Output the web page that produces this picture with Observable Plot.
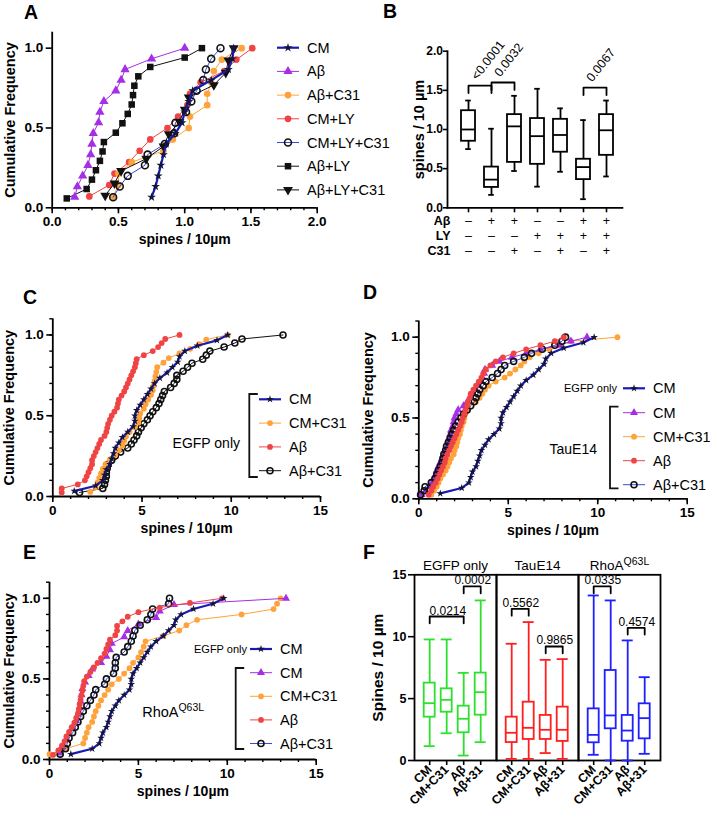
<!DOCTYPE html>
<html><head><meta charset="utf-8">
<script src="https://cdn.jsdelivr.net/npm/d3@7"></script>
<script src="https://cdn.jsdelivr.net/npm/@observablehq/plot@0.6"></script>
<style>
body{margin:0;background:#fff;}
#fig{position:relative;width:710px;height:813px;overflow:hidden;background:#fff;font-family:"Liberation Sans",Arial,Helvetica,sans-serif;}
#fig .panel{position:absolute;}
#fig svg{overflow:visible;max-width:none;background:transparent !important;}
#fig g[aria-label$="tick label"]{font-weight:bold;}
</style></head><body><div id="fig"></div><script>
const FONT = '"Liberation Sans", Arial, Helvetica, sans-serif';

// ---------------- Panel A data (spines / 10 µm per dendrite) ----------------
const seriesA = ["CM","Aβ","Aβ+C31","CM+LY","CM+LY+C31","Aβ+LY","Aβ+LY+C31"];
const aCM      = [0.75,0.78,0.80,0.82,0.84,0.86,0.93,0.98,1.00,1.03,1.06,1.20,1.33,1.36,1.37];
const aAb      = [0.17,0.19,0.23,0.27,0.29,0.30,0.31,0.35,0.36,0.39,0.48,0.52,0.55,0.75,1.00];
const aAbC31   = [0.46,0.50,0.50,0.60,0.84,0.91,1.03,1.04,1.17,1.17,1.20,1.22,1.28,1.43];
const aCMLY    = [0.28,0.43,0.47,0.58,0.66,0.74,0.87,0.95,1.02,1.04,1.12,1.30,1.39,1.51];
const aCMLYC31 = [0.46,0.51,0.57,0.70,0.72,0.85,0.92,0.93,1.01,1.05,1.09,1.14,1.16,1.20,1.27];
const aAbLY    = [0.11,0.26,0.30,0.33,0.36,0.38,0.39,0.48,0.53,0.57,0.60,0.61,0.62,0.65,0.74,1.00,1.13];
const aAbLYC31 = [0.40,0.47,0.52,0.71,0.84,0.88,0.96,1.00,1.03,1.22,1.31,1.33,1.37];

// ---------------- Panel B data (box summaries) ----------------
const bMin = [0.75,0.165,0.47,0.27,0.46,0.11,0.40];
const bQ1  = [0.85,0.26,0.58,0.555,0.71,0.36,0.67];
const bMed = [1.00,0.36,1.04,0.915,0.93,0.52,0.99];
const bQ3  = [1.24,0.52,1.19,1.14,1.13,0.62,1.19];
const bMax = [1.37,1.01,1.43,1.52,1.27,1.12,1.37];
const bRowNames = ["Aβ","LY","C31"];
const bAbeta = ["–","+","+","–","–","+","+"];
const bLY    = ["–","–","–","+","+","+","+"];
const bC31   = ["–","–","+","–","+","–","+"];
const bCmpFrom = ["CM","Aβ","Aβ+LY"];
const bCmpTo   = ["Aβ","Aβ+C31","Aβ+LY+C31"];
const bCmpY    = [1.56,1.60,1.535];
const bCmpP    = ["<0.0001","0.0032","0.0067"];

// ---------------- Panel C data (EGFP only) ----------------
const cCM    = [1.2,2.4,2.8,2.9,3.0,3.2,3.3,3.4,3.5,3.7,3.9,4.2,4.5,4.6,4.6,4.7,4.9,5.1,5.3,5.5,5.7,6.0,6.4,6.7,7.0,7.1,7.4,8.1,9.2,9.8];
const cCMC31 = [2.1,2.4,2.5,2.6,2.7,2.8,2.95,3.2,3.5,3.7,3.9,4.0,4.1,4.3,4.6,4.8,4.85,4.9,5.1,5.2,5.35,5.5,5.6,5.65,5.7,5.75,5.8,5.85,6.2,6.5,7.1,7.7,8.2,8.6,9.8];
const cAb    = [0.5,0.5,1.4,1.8,1.9,2.0,2.1,2.2,2.2,2.3,2.4,2.5,2.6,2.7,2.9,3.0,3.05,3.1,3.2,3.3,3.45,3.6,3.65,3.7,3.85,4.0,4.1,4.2,4.3,4.4,4.5,4.6,4.65,4.7,5.1,5.6,5.9,6.1,6.3,7.1];
const cAbC31 = [1.5,2.8,2.9,2.95,3.0,3.0,3.05,3.1,3.3,3.5,3.8,4.2,4.4,4.55,4.7,4.8,4.95,5.1,5.3,5.45,5.6,5.8,5.95,6.05,6.15,6.25,6.6,6.8,6.95,6.95,7.3,7.55,7.8,8.4,8.6,8.8,9.6,10.2,10.6,12.9];

// ---------------- Panel D data (TauE14) ----------------
const dCM    = [0.15,0.4,0.6,0.75,0.85,0.95,1.0,1.1,1.2,1.3,1.4,1.5,1.6,1.65,1.7,1.75,1.8,1.9,1.95,2.0,2.1,2.2,2.5,2.7,2.9,3.05,3.2,3.35,3.45,3.55,3.65,3.7,4.1,4.5,5.2,6.0,6.8,7.9,8.5,9.4];
const dCMC31 = [0.7,0.85,1.0,1.1,1.2,1.35,1.5,1.6,1.7,1.8,1.95,2.0,2.1,2.15,2.2,2.3,2.35,2.4,2.5,2.55,2.6,2.65,2.75,3.2,3.4,3.55,3.7,3.9,4.3,4.8,5.1,5.4,5.7,5.9,6.2,6.7,7.3,7.8,8.5,11.1];
const dAb    = [0.55,0.7,0.8,0.95,1.05,1.15,1.25,1.35,1.45,1.5,1.6,1.7,1.8,1.9,2.0,2.1,2.2,2.3,2.4,2.45,2.55,2.6,2.7,2.75,2.85,2.9,3.05,3.2,3.35,3.5,3.6,3.75,4.0,4.3,4.7,5.3,6.0,6.8,7.6,8.1];
const dAbC31 = [0.1,0.3,0.35,0.7,0.9,1.0,1.1,1.2,1.3,1.35,1.4,1.5,1.55,1.65,1.75,1.85,1.95,2.05,2.2,2.35,2.5,2.7,2.9,3.1,3.2,3.3,3.4,3.6,3.75,4.1,4.4,4.6,4.8,5.3,5.9,6.3,6.9,7.6,8.0,8.2];

// ---------------- Panel E data (RhoA Q63L) ----------------
const eCM    = [0.6,0.7,1.0,1.1,1.3,1.5,1.6,1.7,1.75,1.8,1.85,2.0,2.2,2.4,2.9,3.2,3.4,3.5,4.2,4.4,5.0,6.0,6.2,7.0,13.3];
const eCMC31 = [0.0,0.9,1.9,2.0,2.1,2.2,2.4,2.5,2.6,2.75,2.9,3.1,3.3,3.5,3.9,4.2,4.5,4.7,5.0,5.15,5.3,5.4,6.4,7.3,7.7,8.3,10.8,12.6,12.8,13.0];
const eAb    = [0.2,0.5,0.7,0.85,0.95,1.1,1.25,1.4,1.5,1.6,1.65,1.7,1.75,1.8,1.85,1.9,1.95,2.1,2.3,2.5,2.7,2.9,3.1,3.2,3.3,3.4,3.7,3.8,3.8,4.1,4.4,5.0,6.2,7.9,9.7];
const eAbC31 = [0.6,0.9,1.0,1.1,1.3,1.45,1.6,1.75,1.9,2.1,2.3,2.5,2.6,3.1,3.2,3.6,3.7,3.7,3.75,4.2,4.4,4.6,4.7,4.8,5.1,5.5,5.7,5.8,6.7,6.75];

// ---------------- Panel F data (box summaries) ----------------
const fGroups = ["EGFP only","TauE14","RhoA"];
const fGroupSup = ["","","Q63L"];
const fConds = ["CM","CM+C31","Aβ","Aβ+31"];
const fMin = [1.16,2.2,0.4,1.48, 0.13,0.13,0.6,0.13, 0.46,0,0,0.54];
const fQ1  = [3.5,3.9,2.24,3.66, 1.45,1.7,1.7,1.54, 1.43,2.56,1.56,1.75];
const fMed = [4.63,4.9,3.37,5.52, 2.24,2.64,2.48,2.48, 2.07,3.64,2.42,3.42];
const fQ3  = [6.25,5.79,4.39,7.06, 3.5,4.71,3.64,4.31, 4.17,7.27,3.64,4.58];
const fMax = [9.78,9.78,7.08,12.93, 9.43,11.18,8.13,8.19, 13.33,12.93,9.7,6.73];
const fCmpGroup = ["EGFP only","EGFP only","TauE14","TauE14","RhoA","RhoA"];
const fCmpFrom  = ["CM","Aβ","CM","Aβ","CM","Aβ"];
const fCmpTo    = ["Aβ","Aβ+31","CM+C31","Aβ+31","CM+C31","Aβ+31"];
const fCmpY     = [11.63,14.06,12.25,9.21,14.06,10.72];
const fCmpP     = ["0.0214","0.0002","0.5562","0.9865","0.0335","0.4574"];

// ---------------- styles ----------------
const ST = {
  cm:       {line:"#1a1ab2", lw:2.2, symbol:"star", r:2.4, fill:"#14143a"},
  purple:   {line:"#a52ee6", lw:1, symbol:"triangle", r:3.0, fill:"#a52ee6"},
  orange:   {line:"#ffa23a", lw:1, symbol:"circle", r:2.9, fill:"#ffa23a"},
  red:      {line:"#f04444", lw:1, symbol:"circle", r:2.9, fill:"#f04444"},
  ringBlue: {line:"#3a4ad6", lw:1, symbol:"circle", r:3.0, fill:"none", stroke:"#111", sw:1.6},
  ringBlack:{line:"#111", lw:1, symbol:"circle", r:3.0, fill:"none", stroke:"#111", sw:1.6},
  square:   {line:"#111", lw:1, symbol:"square", r:3.2, fill:"#111"},
  down:     {line:"#111", lw:1, symbol:"triangle", r:3.2, fill:"#111", rotate:180}
};
const baseStyle = {fontFamily: FONT, fontSize: "12px", color: "black", background: "transparent", overflow: "visible"};

function cumulative(values) {
  const s = d3.sort(values);
  return s.map((v, i) => ({x: v, y: (i + 1) / s.length}));
}
function seriesMarks(values, st, rs = 1) {
  const data = cumulative(values);
  return [
    Plot.line(data, {x: "x", y: "y", stroke: st.line, strokeWidth: st.lw}),
    Plot.dot(data, {x: "x", y: "y", symbol: st.symbol, r: st.r * rs, fill: st.fill,
      stroke: st.stroke || "none", strokeWidth: st.sw || 0, rotate: st.rotate || 0})
  ];
}
function cumPlot(o) {
  const marks = [
    Plot.axisX({ticks: o.xMinor, tickSize: 3, tickFormat: () => "", label: null, strokeWidth: 1.4}),
    Plot.axisX({ticks: o.xMajor, tickSize: 6, tickPadding: 3, tickFormat: o.xFmt, fontWeight: "bold", fontSize: 13.5, label: null, strokeWidth: 1.6}),
    Plot.axisY({ticks: [0, 0.5, 1], tickSize: 6, tickPadding: 3, tickFormat: d3.format(".1f"), fontWeight: "bold", fontSize: 13.5, label: null, strokeWidth: 1.6}),
    Plot.ruleX([0], {strokeWidth: 1.8}),
    Plot.ruleY([0], {strokeWidth: 1.8}),
    ...o.series,
    Plot.text(["spines / 10µm"], {text: d => d, frameAnchor: "bottom", dy: 36, fontWeight: "bold", fontSize: 14}),
    Plot.text(["Cumulative Frequency"], {text: d => d, frameAnchor: "left", textAnchor: "middle", rotate: -90, dx: o.yLabelDx, fontWeight: "bold", fontSize: 14.5})
  ];
  if (o.yMinor) marks.unshift(Plot.axisY({ticks: o.yMinor, tickSize: 3, tickFormat: () => "", label: null, strokeWidth: 1.4}));
  return Plot.plot({
    width: o.width, height: o.height, marginLeft: o.ml, marginRight: o.mr, marginTop: o.mt, marginBottom: o.mb,
    x: {domain: [0, o.xMax]}, y: {domain: [0, 1.1]},
    style: baseStyle, marks
  });
}
const fig = document.getElementById("fig");
function place(el, left, top) {
  const d = document.createElement("div");
  d.className = "panel"; d.style.left = left + "px"; d.style.top = top + "px";
  d.appendChild(el); fig.appendChild(d);
}
const minorY = d3.range(0, 1.11, 0.1).map(v => +v.toFixed(2));

// ---------------- Panel A ----------------
const valuesA = [aCM, aAb, aAbC31, aCMLY, aCMLYC31, aAbLY, aAbLYC31];
const stylesA = [ST.cm, ST.purple, ST.orange, ST.red, ST.ringBlue, ST.square, ST.down];
const drawOrderA = [3, 2, 4, 6, 0, 5, 1];
place(cumPlot({
  width: 340, height: 260, ml: 51.7, mr: 23.3, mt: 31.7, mb: 52.7, xMax: 2,
  xMajor: [0, 0.5, 1, 1.5, 2], xMinor: d3.range(0, 2.01, 0.1).map(v => +v.toFixed(2)), xFmt: d3.format(".1f"),
  yLabelDx: -42,
  series: drawOrderA.flatMap(i => seriesMarks(valuesA[i], stylesA[i], 1.15))
}), 0, 0);

// ---------------- Panel B ----------------
const bW = 350, bH = 265, bML = 87, bMR = 86.7, bMT = 50.7, bMB = 57.7;
const bPadIn = 0.37, bPadOut = 0.463;
const bStep = (bW - bML - bMR) / (seriesA.length - bPadIn + 2 * bPadOut);
const bData = seriesA.map((g, i) => ({g, min: bMin[i], q1: bQ1[i], med: bMed[i], q3: bQ3[i], max: bMax[i], ab: bAbeta[i], ly: bLY[i], c31: bC31[i]}));
const bCmp = bCmpFrom.map((f, i) => ({from: f, to: bCmpTo[i], y: bCmpY[i], p: bCmpP[i]}));
const bLeg = 0.095;
const bBracket = bCmp.flatMap((c, k) => [
  {k, x: c.from, y: c.y - bLeg}, {k, x: c.from, y: c.y}, {k, x: c.to, y: c.y}, {k, x: c.to, y: c.y - bLeg}]);
const bRows = [["ab", 17.2], ["ly", 32.4], ["c31", 47.6]];
place(Plot.plot({
  width: bW, height: bH, marginLeft: bML, marginRight: bMR, marginTop: bMT, marginBottom: bMB,
  x: {type: "band", domain: seriesA, paddingInner: bPadIn, paddingOuter: bPadOut, align: 0.6},
  y: {domain: [0, 2]},
  style: baseStyle,
  marks: [
    Plot.axisY({ticks: [0, 0.5, 1, 1.5, 2], tickFormat: d3.format(".1f"), tickSize: 4, tickPadding: 0.5, fontWeight: "bold", fontSize: 12, label: null, strokeWidth: 1.6}),
    Plot.axisX({tickSize: 5, tickFormat: () => "", label: null, strokeWidth: 1.6}),
    Plot.ruleY([0], {strokeWidth: 1.8}),
    Plot.frame({anchor: "left", strokeWidth: 1.8}),
    Plot.ruleX(bData, {x: "g", y1: "min", y2: "q1", strokeWidth: 1.8}),
    Plot.ruleX(bData, {x: "g", y1: "q3", y2: "max", strokeWidth: 1.8}),
    Plot.tickY(bData, {x: "g", y: "min", inset: 4.2, strokeWidth: 1.8}),
    Plot.tickY(bData, {x: "g", y: "max", inset: 4.2, strokeWidth: 1.8}),
    Plot.barY(bData, {x: "g", y1: "q1", y2: "q3", fill: "white", stroke: "black", strokeWidth: 1.8}),
    Plot.tickY(bData, {x: "g", y: "med", strokeWidth: 1.8}),
    Plot.line(bBracket, {x: "x", y: "y", z: "k", strokeWidth: 1.8}),
    Plot.text(bCmp, {x: "from", y: "y", text: "p", rotate: -52, textAnchor: "start", lineAnchor: "bottom", dx: bStep / 2 - 3, dy: -5, fontSize: 12.5}),
    ...bRows.map(([key, dy]) => Plot.text(bData, {x: "g", text: key, frameAnchor: "bottom", dy, fontSize: 12.5})),
    ...bRows.map(([key, dy], i) => Plot.text([bRowNames[i]], {text: d => d, frameAnchor: "bottom-left", dx: 3, dy, textAnchor: "end", fontWeight: "bold", fontSize: 12.5})),
    Plot.text(["spines / 10 µm"], {text: d => d, frameAnchor: "left", textAnchor: "middle", rotate: -90, dx: -28.5, fontWeight: "bold", fontSize: 14.5})
  ]
}), 360, 0);

// ---------------- Panel C ----------------
const xMinor15 = d3.range(0, 16, 1), xMajor15 = [0, 5, 10, 15];
place(cumPlot({
  width: 360, height: 280, ml: 52.3, mr: 40, mt: 53.3, mb: 49, xMax: 15,
  xMajor: xMajor15, xMinor: xMinor15, yMinor: minorY, xFmt: d3.format("d"), yLabelDx: -43,
  series: [...seriesMarks(cAb, ST.red), ...seriesMarks(cAbC31, ST.ringBlack), ...seriesMarks(cCMC31, ST.orange), ...seriesMarks(cCM, ST.cm)]
}), 0, 265);

// ---------------- Panel D ----------------
place(cumPlot({
  width: 350, height: 280, ml: 58.3, mr: 23.3, mt: 55.5, mb: 46.7, xMax: 15,
  xMajor: xMajor15, xMinor: xMinor15, yMinor: minorY, xFmt: d3.format("d"), yLabelDx: -50,
  series: [...seriesMarks(dCMC31, ST.orange), ...seriesMarks(dCM, ST.purple), ...seriesMarks(dAbC31, ST.ringBlue), ...seriesMarks(dAb, ST.red), ...seriesMarks(cCM, ST.cm)]
}), 360, 265);

// ---------------- Panel E ----------------
place(cumPlot({
  width: 360, height: 273, ml: 49, mr: 44.3, mt: 41.7, mb: 54, xMax: 15,
  xMajor: xMajor15, xMinor: xMinor15, yMinor: minorY, xFmt: d3.format("d"), yLabelDx: -40.5,
  series: [...seriesMarks(eCMC31, ST.orange), ...seriesMarks(eCM, ST.purple), ...seriesMarks(eAbC31, ST.ringBlue), ...seriesMarks(eAb, ST.red), ...seriesMarks(cCM, ST.cm)]
}), 0, 540);

// ---------------- Panel F ----------------
const fW = 350, fH = 273, fML = 53.3, fMR = 48.3, fMT = 34.3, fMB = 53;
const fPadIn = 0.376, fPadOut = 0.475;
const fStep = ((fW - fML - fMR) / fGroups.length) / (fConds.length - fPadIn + 2 * fPadOut);
const fColors = {"EGFP only": "#2ee02e", "TauE14": "#ff1f1f", "RhoA": "#1f1fff"};
const fData = fGroups.flatMap((g, gi) => fConds.map((c, ci) => {
  const i = gi * fConds.length + ci;
  return {g, c, col: fColors[g], min: fMin[i], q1: fQ1[i], med: fMed[i], q3: fQ3[i], max: fMax[i]};
}));
const fCmp = fCmpGroup.map((g, i) => ({g, from: fCmpFrom[i], to: fCmpTo[i], y: fCmpY[i], p: fCmpP[i],
  span: fConds.indexOf(fCmpTo[i]) - fConds.indexOf(fCmpFrom[i])}));
const fLeg = 0.55;
const fBracket = fCmp.flatMap((c, k) => [
  {k, g: c.g, x: c.from, y: c.y - fLeg}, {k, g: c.g, x: c.from, y: c.y}, {k, g: c.g, x: c.to, y: c.y}, {k, g: c.g, x: c.to, y: c.y - fLeg}]);
const fPlot = Plot.plot({
  width: fW, height: fH, marginLeft: fML, marginRight: fMR, marginTop: fMT, marginBottom: fMB,
  fx: {domain: fGroups, padding: 0, axis: null},
  x: {type: "band", domain: fConds, paddingInner: fPadIn, paddingOuter: fPadOut},
  y: {domain: [0, 15]},
  color: {type: "identity"},
  style: baseStyle,
  marks: [
    Plot.frame({strokeWidth: 1.8}),
    Plot.axisY({ticks: [0, 5, 10, 15], tickSize: 6, tickPadding: 2, fontWeight: "bold", fontSize: 12.5, label: null, strokeWidth: 1.6}),
    Plot.axisX({tickSize: 5, tickRotate: -45, tickPadding: 2, fontWeight: "bold", fontSize: 12.5, label: null, strokeWidth: 1.6}),
    Plot.ruleX(fData, {fx: "g", x: "c", y1: "min", y2: "q1", stroke: "col", strokeWidth: 1.8}),
    Plot.ruleX(fData, {fx: "g", x: "c", y1: "q3", y2: "max", stroke: "col", strokeWidth: 1.8}),
    Plot.tickY(fData, {fx: "g", x: "c", y: "min", stroke: "col", strokeWidth: 1.8}),
    Plot.tickY(fData, {fx: "g", x: "c", y: "max", stroke: "col", strokeWidth: 1.8}),
    Plot.barY(fData, {fx: "g", x: "c", y1: "q1", y2: "q3", fill: "white", stroke: "col", strokeWidth: 1.8}),
    Plot.tickY(fData, {fx: "g", x: "c", y: "med", stroke: "col", strokeWidth: 1.8}),
    Plot.line(fBracket, {fx: "g", x: "x", y: "y", z: "k", stroke: "black", strokeWidth: 1.8}),
    ...[1, 2].map(s => Plot.text(fCmp.filter(c => c.span === s), {fx: "g", x: "from", y: "y", text: "p", dx: fStep * s / 2, dy: -2, lineAnchor: "bottom", fontSize: 12})),
    Plot.text(fGroups, {fx: d => d, text: d => d, frameAnchor: "top", lineAnchor: "bottom", dy: -5, fontSize: 13.5}),
    Plot.text(["Spines / 10 µm"], {fx: () => fGroups[0], text: d => d, frameAnchor: "left", textAnchor: "middle", rotate: -90, dx: -36.6, fontWeight: "bold", fontSize: 15.5})
  ]
});
// superscript on the RhoA header
d3.select(fPlot).selectAll("text").each(function() {
  const i = fGroups.indexOf(this.textContent);
  if (i >= 0 && fGroupSup[i] && this.childElementCount === 0) {
    d3.select(this).append("tspan").attr("font-size", 10.5).attr("dy", "-0.45em").text(fGroupSup[i]);
  }
});
place(fPlot, 360, 540);

// ---------------- overlay: panel letters and legends ----------------
const ov = d3.create("svg").attr("width", 710).attr("height", 813)
  .style("position", "absolute").style("left", "0px").style("top", "0px")
  .style("pointer-events", "none").attr("font-family", FONT);
const letters = [["A", 24, 19], ["B", 383, 17.5], ["C", 23, 303.5], ["D", 363, 298.5], ["E", 23, 558.5], ["F", 363, 558.5]];
ov.selectAll("text.letter").data(letters).join("text").attr("class", "letter")
  .attr("x", d => d[1]).attr("y", d => d[2]).attr("font-size", 19.5).attr("font-weight", "bold").text(d => d[0]);
const symbolTypes = {circle: d3.symbolCircle, star: d3.symbolStar, triangle: d3.symbolTriangle, square: d3.symbolSquare};
function legendRow(x, y, st, label, rs = 1) {
  const g = ov.append("g");
  g.append("line").attr("x1", x).attr("x2", x + 22).attr("y1", y).attr("y2", y).attr("stroke", st.line).attr("stroke-width", st.lw);
  g.append("path").attr("d", d3.symbol(symbolTypes[st.symbol], Math.PI * (st.r * rs) ** 2)())
    .attr("transform", `translate(${x + 11},${y}) rotate(${st.rotate || 0})`)
    .attr("fill", st.fill).attr("stroke", st.stroke || "none").attr("stroke-width", st.sw || 0);
  g.append("text").attr("x", x + 30).attr("y", y).attr("dy", "0.35em").attr("font-size", 14.5).text(label);
}
function bracket(x, y1, y2) {
  ov.append("path").attr("d", `M${x + 8.5},${y1}H${x}V${y2}H${x + 8.5}`).attr("fill", "none").attr("stroke", "#111").attr("stroke-width", 1.8);
}
function sideText(x, y, txt, size, sup) {
  const t = ov.append("text").attr("x", x).attr("y", y).attr("dy", "0.35em").attr("text-anchor", "end").attr("font-size", size).text(txt);
  if (sup) t.append("tspan").attr("font-size", size * 0.72).attr("dy", "-0.6em").text(sup);
}
// A legend
seriesA.forEach((name, i) => legendRow(277, 47.7 + i * 23.7, stylesA[i], name, 1.15));
// C legend
const legC = [[ST.cm, "CM"], [ST.orange, "CM+C31"], [ST.red, "Aβ"], [ST.ringBlack, "Aβ+C31"]];
legC.forEach(([st, n], i) => legendRow(259, 399.3 + i * 23.8, st, n));
bracket(249.3, 394, 477);
sideText(240, 443, "EGFP only", 14);
// D legend
const legRest = [[ST.purple, "CM"], [ST.orange, "CM+C31"], [ST.red, "Aβ"], [ST.ringBlue, "Aβ+C31"]];
sideText(617, 388.3, "EGFP only", 11);
legendRow(623, 388.3, ST.cm, "CM");
legRest.forEach(([st, n], i) => legendRow(623, 412.7 + i * 24, st, n));
bracket(610, 406.7, 488.3);
sideText(597, 449, "TauE14", 14);
// E legend
sideText(247, 649, "EGFP only", 11);
legendRow(250, 649, ST.cm, "CM");
legRest.forEach(([st, n], i) => legendRow(250, 672.7 + i * 23.6, st, n));
bracket(235.7, 668, 749);
sideText(204, 712, "RhoA", 14.5, "Q63L");
fig.appendChild(ov.node());
</script></body></html>
